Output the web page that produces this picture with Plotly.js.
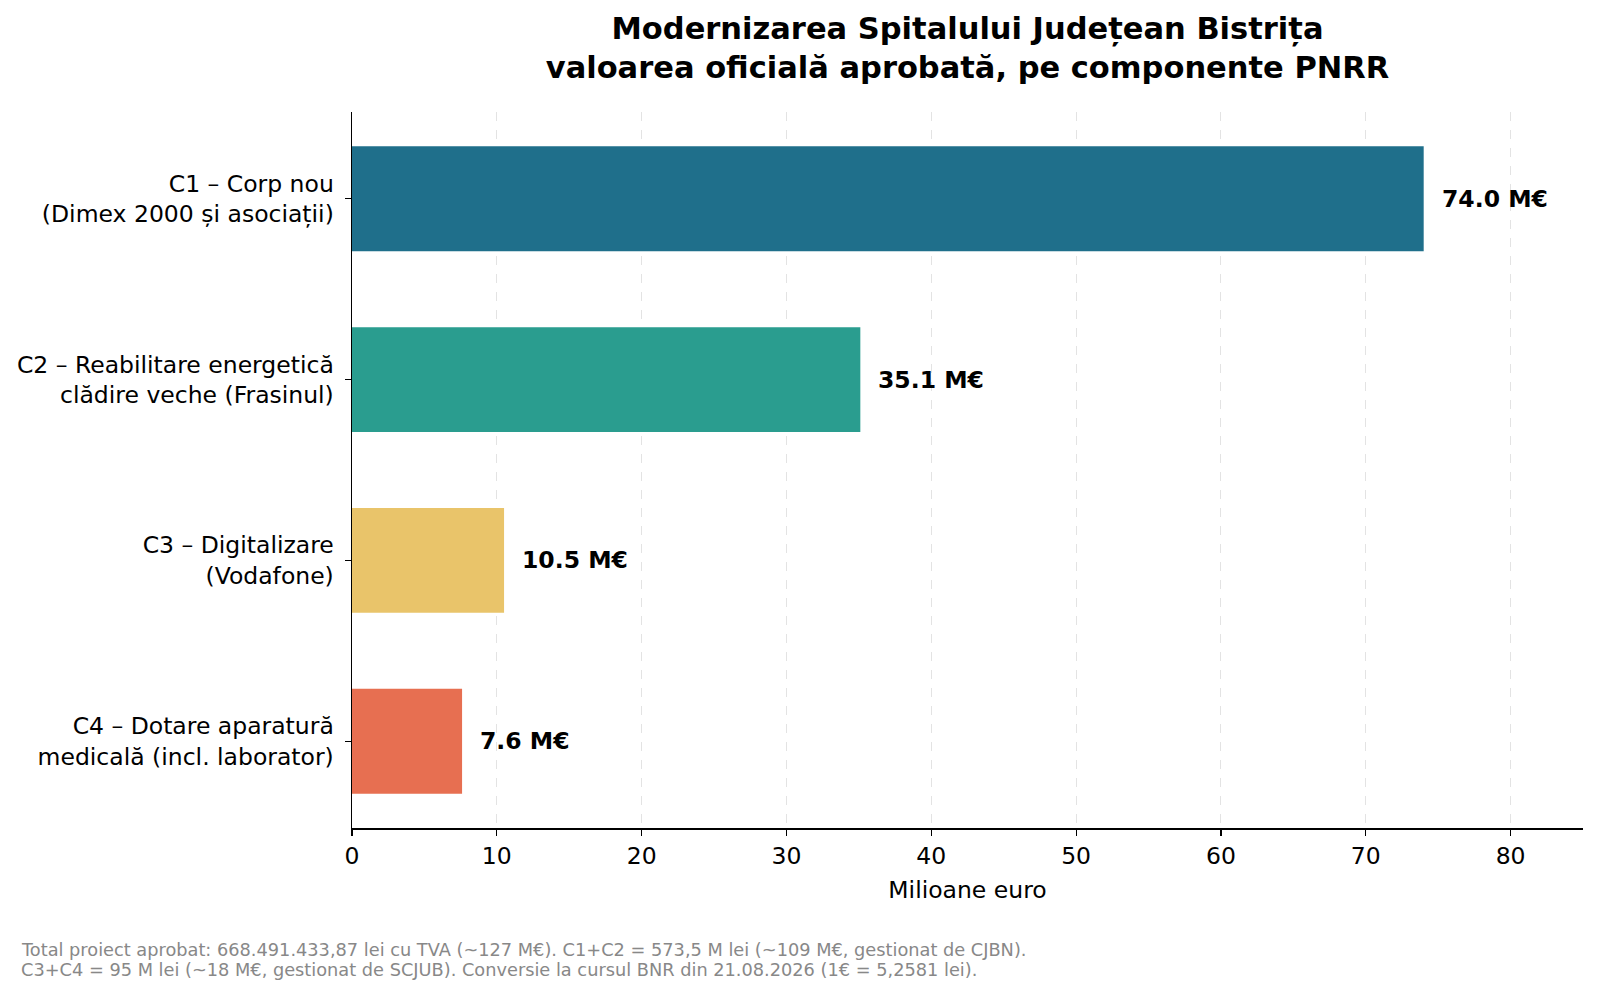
<!DOCTYPE html>
<html>
<head>
<meta charset="utf-8">
<script src="https://cdn.plot.ly/plotly-3.0.1.min.js"></script>
<style>
  body { margin: 0; background: #fff; }
  #chart { width: 1600px; height: 994px; }
</style>
</head>
<body>
<div id="chart"></div>
<script>
// componentele proiectului, de sus in jos
const categories = [
  'C1 – Corp nou<br>(Dimex 2000 și asociații)',
  'C2 – Reabilitare energetică<br>clădire veche (Frasinul)',
  'C3 – Digitalizare<br>(Vodafone)',
  'C4 – Dotare aparatură<br>medicală (incl. laborator)'
];
const values = [74.0, 35.1, 10.5, 7.6];
const barColors = ['#1f6f8b', '#2a9d8f', '#e9c46a', '#e76f51'];
const xTicks = [0, 10, 20, 30, 40, 50, 60, 70, 80];
const footnote = [
  'Total proiect aprobat: 668.491.433,87 lei cu TVA (~127 M€). C1+C2 = 573,5 M lei (~109 M€, gestionat de CJBN).',
  'C3+C4 = 95 M lei (~18 M€, gestionat de SCJUB). Conversie la cursul BNR din 21.08.2026 (1€ = 5,2581 lei).'
];

const FONT = 'DejaVu Sans, Verdana, sans-serif';
const TXT = 23.5;

let bars = {
  type: 'bar',
  orientation: 'h',
  x: values,
  y: categories,
  marker: { color: barColors, line: { width: 0 } },
  hoverinfo: 'skip'
};

// etichetele cu valori, langa capatul fiecarei bare
let notes = values.map(function(v, i) {
  return {
    xref: 'x', yref: 'y',
    x: v, y: categories[i],
    xshift: 16,
    xanchor: 'left', yanchor: 'middle',
    text: '<b>' + v.toFixed(1) + ' M€</b>',
    showarrow: false,
    font: { family: FONT, size: TXT, color: '#000' }
  };
});

// nota de subsol, cate o linie
const footY = [-0.170, -0.198];
footnote.forEach(function(line, i) {
  notes.push({
    xref: 'paper', yref: 'paper',
    x: -0.2706, y: footY[i],
    xanchor: 'left', yanchor: 'middle',
    text: line,
    showarrow: false,
    font: { family: FONT, size: 17.75, color: '#888888' }
  });
});

let layout = {
  width: 1600,
  height: 994,
  margin: { l: 352, r: 17, t: 112, b: 166 },
  paper_bgcolor: '#fff',
  plot_bgcolor: '#fff',
  font: { family: FONT, color: '#000' },
  showlegend: false,
  bargap: 0.42,
  title: {
    text: '<b>Modernizarea Spitalului Județean Bistrița<br>valoarea oficială aprobată, pe componente PNRR</b>',
    font: { family: FONT, size: 30.5, color: '#000' },
    x: 0.5, xref: 'paper',
    y: 0.961, yref: 'container', yanchor: 'middle'
  },
  xaxis: {
    range: [0, 85],
    tickvals: xTicks,
    ticktext: xTicks.map(String),
    ticks: 'outside', ticklen: 6, tickwidth: 1.2, tickcolor: '#000',
    tickfont: { family: FONT, size: TXT, color: '#000' },
    showgrid: true, gridcolor: '#e3e3e3', griddash: 'dash', gridwidth: 1,
    showline: true, linecolor: '#000', linewidth: 1.5,
    zeroline: false,
    title: { text: 'Milioane euro', font: { family: FONT, size: TXT, color: '#000' }, standoff: 13 }
  },
  yaxis: {
    range: [3.48, -0.48],
    ticks: 'outside', ticklen: 6, tickwidth: 1.2, tickcolor: '#000',
    ticklabelstandoff: 6,
    tickfont: { family: FONT, size: TXT, color: '#000' },
    showgrid: false,
    showline: true, linecolor: '#000', linewidth: 1.5,
    zeroline: false
  },
  annotations: notes
};

Plotly.newPlot('chart', [bars], layout, { staticPlot: true, displayModeBar: false });
</script>
</body>
</html>
